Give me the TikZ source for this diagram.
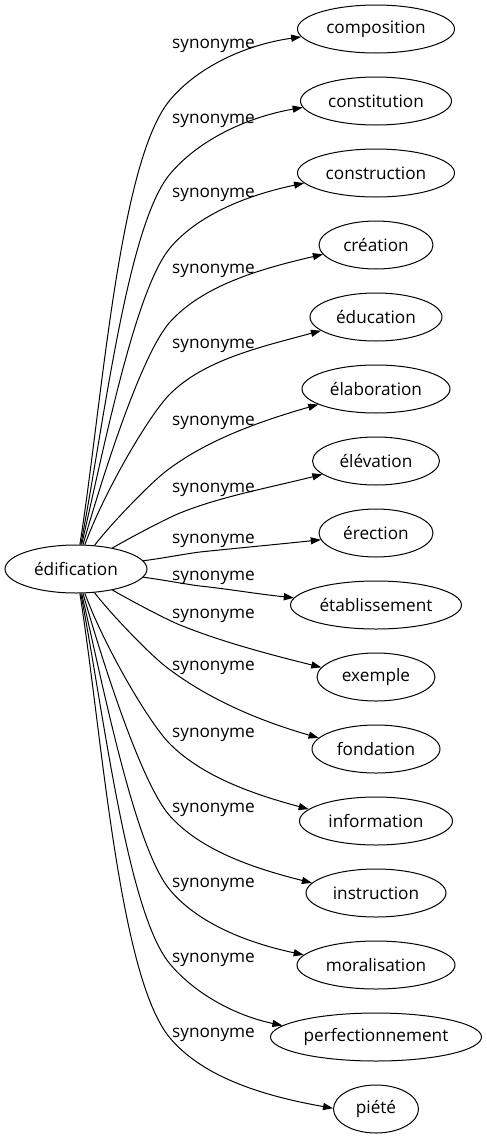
\documentclass[tikz,border=0pt]{standalone}
\usepackage{fontspec}
\setmainfont{Open Sans}
\usetikzlibrary{shapes.geometric, arrows.meta}

\begin{document}
\begin{tikzpicture}[x=0.75pt, y=0.75pt,
        word/.style={ellipse, draw, line width=0.75pt, inner sep=0pt,
            minimum height=36pt, font=\fontsize{12.9}{15}\selectfont},
        rel/.style={inner sep=0pt, font=\fontsize{12.9}{15}\selectfont},
        syn/.style={line width=0.75pt, -{Triangle[length=7.5pt, width=5.3pt]}}]
        \useasboundingbox (0,0) rectangle (486,-1139);

        % Nodes
        \node[word, minimum width=106.5pt] (edif) at (76,-569) {édification};

        % Targets, labels, bends and edges
        \foreach \name/\ty/\w/\ao/\kx/\ky/\kt/\ai/\an/\ly [count=\i] in {
                composition/29/157/81/170/100/50/188/186/46,
                constitution/101/151/79/170/174/50/190/185/121,
                construction/173/157/77/170/248/50/192/188/195,
                création/245/114/74/170/322/48/193/190/271,
                éducation/317/132/70/170/394/45/195/194/346,
                élaboration/389/148/52/165/472/38/196/195/423,
                élévation/461/127/30/180/513/22/194/194/490,
                érection/533/114/7/200/552/6/186/187/541,
                établissement/605/171/-7/200/586/-6/174/175/578,
                exemple/677/118/-30/180/625/-22/166/170/616,
                fondation/749/128/-52/165/666/-38/164/169/668,
                information/821/153/-70/170/744/-45/165/170/735,
                instruction/893/140/-74/170/816/-48/166/171/810,
                moralisation/965/158/-77/170/890/-50/168/172/885,
                perfectionnement/1037/211/-79/170/964/-50/168/173/960,
                piété/1109/85/-81/170/1038/-50/170/179/1035} {
            \node[word, minimum width=\w*0.75pt] (t\i) at (376,-\ty) {\name};
            \node[rel] (l\i) at (213.5,-\ly) {synonyme};
            \coordinate (k\i) at (\kx,-\ky);
            \pgfmathsetmacro\kin{\kt+180}
            \draw[syn] (edif) to[out=\ao, in=\kin, out looseness=0.8, in looseness=0.45] (k\i)
                to[out=\kt, in=\ai, out looseness=0.75] (t\i.\an);
        }
    \end{tikzpicture}
\end{document}
